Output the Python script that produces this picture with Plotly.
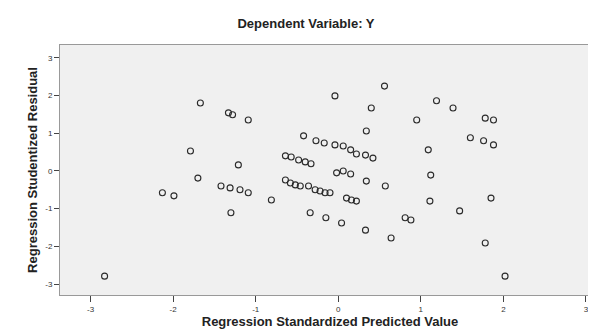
import plotly.graph_objects as go

# Regression Standardized Predicted Value
pred = [-2.83, -2.13, -1.99, -1.79, -1.70, -1.67, -1.33, -1.28, -1.09, -1.21,
        -1.42, -1.31, -1.19, -1.09, -1.30, -0.81,
        -0.42, -0.27, -0.17, -0.04, 0.06, 0.15, 0.22, 0.33, 0.42, 0.34,
        -0.64, -0.57, -0.48, -0.40, -0.33, -0.02, 0.06, 0.15,
        -0.64, -0.58, -0.52, -0.46, -0.36, -0.28, -0.22, -0.16, -0.10,
        0.10, 0.16, 0.22, 0.34, 0.57,
        -0.34, -0.15, 0.04, 0.33, 0.64, -0.04, 0.56, 0.40,
        1.19, 1.39, 0.95, 1.78, 1.88, 1.60, 1.76, 1.88, 1.09, 1.12,
        1.11, 1.47, 1.85, 0.81, 0.88, 1.78, 2.02]

# Regression Studentized Residual
resid = [-2.79, -0.58, -0.66, 0.53, -0.19, 1.80, 1.54, 1.49, 1.35, 0.16,
         -0.40, -0.45, -0.50, -0.58, -1.11, -0.77,
         0.93, 0.80, 0.74, 0.69, 0.66, 0.56, 0.45, 0.42, 0.34, 1.06,
         0.40, 0.37, 0.29, 0.24, 0.19, -0.05, 0.00, -0.08,
         -0.24, -0.32, -0.37, -0.40, -0.40, -0.50, -0.53, -0.58, -0.58,
         -0.72, -0.77, -0.80, -0.27, -0.40,
         -1.11, -1.24, -1.38, -1.57, -1.78, 1.99, 2.25, 1.67,
         1.86, 1.67, 1.35, 1.40, 1.35, 0.88, 0.80, 0.69, 0.56, -0.11,
         -0.80, -1.06, -0.72, -1.24, -1.30, -1.91, -2.79]

x_ticks = [-3, -2, -1, 0, 1, 2, 3]
y_ticks = [-3, -2, -1, 0, 1, 2, 3]

FONT = "Liberation Sans, Arial, sans-serif"

fig = go.Figure()
fig.add_trace(go.Scatter(
    x=pred, y=resid, mode="markers",
    marker=dict(symbol="circle-open", size=6, color="#2a2a2a",
                line=dict(width=1.1, color="#2a2a2a")),
    showlegend=False, hoverinfo="x+y"))

fig.update_layout(
    width=596, height=334,
    margin=dict(l=52, r=4, t=37, b=47),
    paper_bgcolor="white", plot_bgcolor="#f0f0f0",
    font=dict(family=FONT, size=9, color="#222"),
    title=dict(text="<b>Dependent Variable: Y</b>", x=0.50, xanchor="center",
               y=0.955, yanchor="middle", font=dict(family=FONT, size=13, color="#222")),
)
fig.update_xaxes(
    range=[-3.37, 3.17], tickvals=x_ticks, ticktext=[str(v) for v in x_ticks],
    showgrid=False, zeroline=False, ticks="outside", ticklen=6, tickcolor="#444",
    showline=True, linecolor="#999", linewidth=1, mirror=True,
    title=dict(text="<b>Regression Standardized Predicted Value</b>",
               font=dict(family=FONT, size=13, color="#222"), standoff=4),
    tickfont=dict(size=8, color="#333"))
fig.update_yaxes(
    range=[-3.29, 3.34], tickvals=y_ticks, ticktext=[str(v) for v in y_ticks],
    showgrid=False, zeroline=False, ticks="outside", ticklen=5, tickcolor="#444",
    showline=True, linecolor="#999", linewidth=1, mirror=True,
    title=dict(text="<b>Regression Studentized Residual</b>",
               font=dict(family=FONT, size=13, color="#222"), standoff=4),
    tickfont=dict(size=8, color="#333"))

fig.write_html("out.html")
